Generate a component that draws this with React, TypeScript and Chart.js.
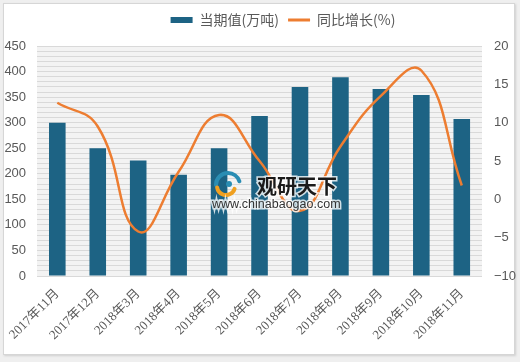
import React, { useEffect, useRef } from 'react';
import Chart from 'chart.js/auto';

const categories = [
  '2017年11月', '2017年12月', '2018年3月', '2018年4月', '2018年5月', '2018年6月',
  '2018年7月', '2018年8月', '2018年9月', '2018年10月', '2018年11月',
];
const currentValues = [300, 250, 226, 198, 250, 313, 370, 389, 366, 354, 307];
const yoyGrowth = [12.6, 9.5, -4.2, 3.6, 11.0, 5.0, -1.5, 6.9, 13.5, 16.8, 1.8];

const barLabel = '当期值(万吨)';
const lineLabel = '同比增长(%)';
const leftMin = 0;
const leftMax = 450;
const leftGridStep = 10;
const leftLabelStep = 50;
const rightMin = -10;
const rightMax = 20;
const rightStep = 5;

const BAR_COLOR = '#1d6384';
const LINE_COLOR = '#ed7d31';
const TEXT_COLOR = '#595959';

const plotBackground = {
  id: 'plotBackground',
  beforeDraw(chart: any) {
    const { ctx, chartArea } = chart;
    if (!chartArea) return;
    ctx.save();
    ctx.fillStyle = '#f3f3f3';
    ctx.fillRect(chartArea.left, chartArea.top, chartArea.right - chartArea.left, chartArea.bottom - chartArea.top);
    ctx.restore();
  },
};

const watermark = {
  id: 'watermark',
  afterDatasetsDraw(chart: any) {
    const ctx = chart.ctx;
    ctx.save();
    // simple logo
    ctx.lineCap = 'round';
    ctx.strokeStyle = '#2a8db3';
    ctx.lineWidth = 4;
    ctx.beginPath();
    ctx.arc(228, 185, 12, Math.PI * 1.0, Math.PI * 1.9);
    ctx.stroke();
    ctx.strokeStyle = '#f0a020';
    ctx.beginPath();
    ctx.arc(226, 186, 9, Math.PI * 0.1, Math.PI * 0.95);
    ctx.stroke();
    ctx.fillStyle = '#2a8db3';
    ctx.beginPath();
    ctx.arc(229, 184, 3, 0, Math.PI * 2);
    ctx.fill();
    // text
    ctx.textBaseline = 'middle';
    ctx.textAlign = 'left';
    ctx.lineWidth = 3;
    ctx.strokeStyle = 'rgba(255,255,255,0.8)';
    ctx.font = 'bold 20px "Noto Sans CJK SC"';
    ctx.strokeText('观研天下', 257, 186);
    ctx.fillStyle = '#1a1a1a';
    ctx.fillText('观研天下', 257, 186);
    ctx.font = '12.5px "Liberation Sans"';
    ctx.strokeText('www.chinabaogao.com', 212, 205);
    ctx.fillStyle = '#333333';
    ctx.fillText('www.chinabaogao.com', 212, 205);
    ctx.restore();
  },
};

export default function App() {
  const canvasRef = useRef<HTMLCanvasElement | null>(null);

  useEffect(() => {
    const canvas = canvasRef.current;
    if (!canvas) return;
    const chart = new Chart(canvas, {
      type: 'bar',
      data: {
        labels: categories,
        datasets: [
          {
            type: 'bar',
            label: barLabel,
            data: currentValues,
            backgroundColor: BAR_COLOR,
            borderWidth: 0,
            barPercentage: 0.41,
            categoryPercentage: 1,
            yAxisID: 'y',
            order: 2,
          },
          {
            type: 'line',
            label: lineLabel,
            data: yoyGrowth,
            borderColor: LINE_COLOR,
            backgroundColor: LINE_COLOR,
            borderWidth: 2.5,
            pointRadius: 0,
            tension: 0.45,
            fill: false,
            yAxisID: 'y1',
            order: 1,
          },
        ],
      },
      options: {
        responsive: false,
        animation: false,
        layout: { padding: { top: 4, left: 0, right: 0, bottom: 0 } },
        plugins: {
          tooltip: { enabled: false },
          subtitle: {
            display: true,
            text: ' ',
            position: 'top',
            weight: 500,
            font: { size: 1 },
            padding: { top: 4, bottom: 3.8 },
          },
          legend: {
            display: true,
            position: 'top',
            labels: {
              usePointStyle: true,
              pointStyleWidth: 22,
              boxHeight: 6,
              padding: 9,
              color: TEXT_COLOR,
              font: { family: '"Noto Sans CJK SC", sans-serif', size: 14 },
              sort: (a: any, b: any) => a.datasetIndex - b.datasetIndex,
              generateLabels: (c: any) => {
                const items = (Chart as any).defaults.plugins.legend.labels.generateLabels(c);
                items.forEach((it: any) => {
                  if (it.datasetIndex === 0) {
                    it.pointStyle = 'rect';
                    it.lineWidth = 0;
                    it.fillStyle = BAR_COLOR;
                    it.strokeStyle = BAR_COLOR;
                  } else {
                    it.pointStyle = 'line';
                    it.lineWidth = 3;
                    it.strokeStyle = LINE_COLOR;
                  }
                });
                return items;
              },
            },
          },
        },
        scales: {
          x: {
            afterFit: (s: any) => { s.height = 86; },
            grid: { display: false, drawTicks: false },
            border: { display: false },
            ticks: {
              autoSkip: false,
              minRotation: 45,
              maxRotation: 45,
              padding: 10,
              color: TEXT_COLOR,
              font: { family: '"Liberation Serif", "Noto Sans CJK SC", serif', size: 13 },
            },
          },
          y: {
            position: 'left',
            min: leftMin,
            max: leftMax,
            afterFit: (s: any) => { s.width = 37; },
            grid: { color: '#d9d9d9', lineWidth: 1, drawTicks: false },
            border: { display: false },
            ticks: {
              stepSize: leftGridStep,
              autoSkip: false,
              padding: 11,
              color: TEXT_COLOR,
              font: { family: '"Liberation Sans", sans-serif', size: 13 },
              callback: (v: any) => (Number(v) % leftLabelStep === 0 ? String(v) : ''),
            },
          },
          y1: {
            position: 'right',
            min: rightMin,
            max: rightMax,
            afterFit: (s: any) => { s.width = 84; },
            grid: { display: false, drawTicks: false },
            border: { display: false },
            ticks: {
              stepSize: rightStep,
              padding: 12,
              color: TEXT_COLOR,
              font: { family: '"Liberation Sans", sans-serif', size: 13 },
              callback: (v: any) => String(v).replace('-', '−'),
            },
          },
        },
      },
      plugins: [plotBackground, watermark],
    });
    return () => chart.destroy();
  }, []);

  return (
    <div style={{ position: 'fixed', left: 0, top: 0, width: 520, height: 362, overflow: 'hidden', background: '#efefef' }}>
      <div style={{ position: 'absolute', left: 3, top: 3, width: 510, height: 350, background: '#ffffff', border: '1px solid #d6d6d6', boxShadow: '1px 1px 2px #cfcfcf' }} />
      <canvas ref={canvasRef} width={566} height={362} style={{ position: 'absolute', left: 0, top: 0, width: 566, height: 362 }} />
    </div>
  );
}
